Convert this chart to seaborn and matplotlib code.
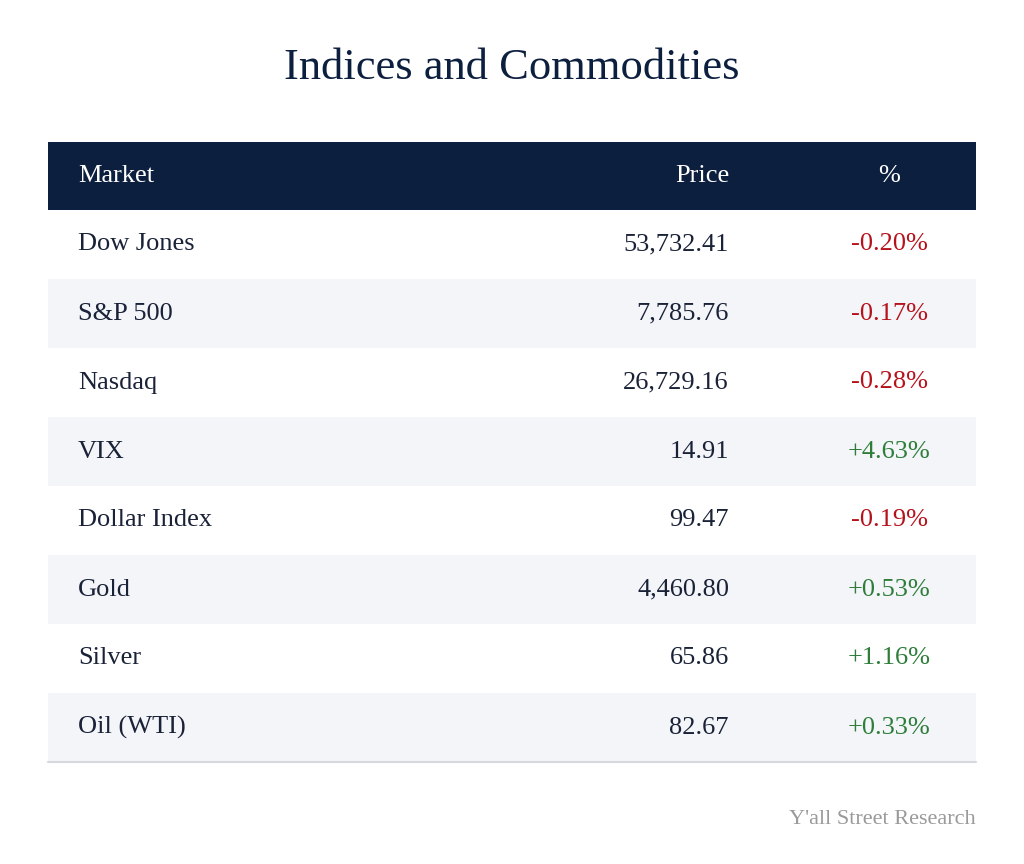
import matplotlib.pyplot as plt
import seaborn as sns

markets = ["Dow Jones", "S&P 500", "Nasdaq", "VIX", "Dollar Index", "Gold", "Silver", "Oil (WTI)"]
prices = ["53,732.41", "7,785.76", "26,729.16", "14.91", "99.47", "4,460.80", "65.86", "82.67"]
changes = [-0.20, -0.17, -0.28, 4.63, -0.19, 0.53, 1.16, 0.33]

sns.set_theme(style="white")
plt.rcParams['font.family'] = ['Liberation Serif', 'DejaVu Serif']

navy = "#0d1f3f"
red = "#b5121b"
green = "#2e7d3a"
ink = "#1a2238"

fig = plt.figure(figsize=(10.24, 8.64), dpi=100)
ax = fig.add_axes([0, 0, 1, 1])
ax.set_xlim(0, 1024)
ax.set_ylim(864, 0)
ax.axis("off")

ax.text(512, 68, "Indices and Commodities", ha="center", va="center", fontsize=32, color=navy)

top, row_h, left, right = 142, 69, 48, 976
ax.fill_between([left, right], top, top + 68, color=navy, lw=0)
hy = top + 34
ax.text(78, hy, "Market", ha="left", va="center", fontsize=19, color="white")
ax.text(729, hy, "Price", ha="right", va="center", fontsize=19, color="white")
ax.text(889, hy, "%", ha="center", va="center", fontsize=19, color="white")

y0 = top + 68
for i, (m, p, c) in enumerate(zip(markets, prices, changes)):
    ya = y0 + i * row_h
    if i % 2 == 1:
        ax.fill_between([left, right], ya, ya + row_h, color="#f3f5f9", lw=0)
    yc = ya + row_h / 2
    ax.text(78, yc, m, ha="left", va="center", fontsize=19, color=ink)
    ax.text(729, yc, p, ha="right", va="center", fontsize=19, color=ink)
    ax.text(889, yc, f"{c:+.2f}%", ha="center", va="center", fontsize=19,
            color=green if c > 0 else red)

yb = y0 + len(markets) * row_h
ax.plot([left, right], [yb, yb], color="#d5d8dd", lw=1.5)

ax.text(976, 819, "Y'all Street Research", ha="right", va="center", fontsize=16, color="#9a9a9a")

fig.savefig("out.png", dpi=100, facecolor="white")
